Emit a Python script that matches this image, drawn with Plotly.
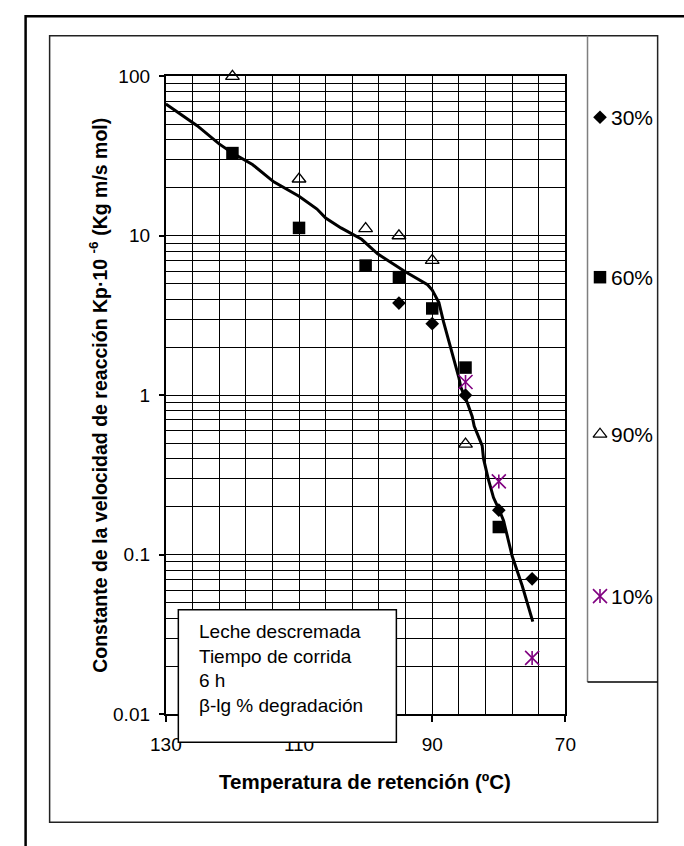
import plotly.graph_objects as go

W, H = 684, 846

# Kp·10^-6 (Kg m/s mol) vs temperatura de retención (ºC), by % degradation of β-lg
temp_30 = [95, 90, 85, 80, 75]
kp_30 = [3.78, 2.81, 1.0, 0.19, 0.0705]

temp_60 = [120, 110, 100, 95, 90, 85, 80]
kp_60 = [33.0, 11.2, 6.5, 5.5, 3.5, 1.49, 0.149]

temp_90 = [120, 110, 100, 95, 90, 85]
kp_90 = [100, 22.7, 11.1, 10.0, 7.0, 0.494]

temp_10 = [85, 80, 75]
kp_10 = [1.21, 0.288, 0.0225]

# fitted trend curve
temp_fit = [130, 125.3, 122, 120, 117, 113.8, 110, 107.3, 106, 103.7, 100.6, 98.2,
            94.1, 90.7, 90, 89.0, 88.3, 87.2, 86.0, 85.7, 84.7, 84.0, 83.7, 82.5,
            82.3, 81.6, 80.8, 79.9, 79.3, 78.0, 76.5, 74.9]
kp_fit = [67, 49, 37.7, 33, 28, 21.8, 17.7, 14.7, 12.9, 11.2, 9.5, 7.7,
          5.96, 4.93, 4.56, 3.81, 2.88, 1.97, 1.29, 1.12, 0.89, 0.736, 0.64, 0.483,
          0.40, 0.30, 0.228, 0.189, 0.164, 0.098, 0.064, 0.038]

legend_labels = ["30%", "60%", "90%", "10%"]
x_ticks = [130, 110, 90, 70]
y_ticks = [0.01, 0.1, 1, 10, 100]
y_ticktext = ["0.01", "0.1", "1", "10", "100"]
y_minor = [k * 10 ** e for e in range(-2, 2) for k in range(2, 10)]
box_lines = ["Leche descremada", "Tiempo de corrida", "6 h", "β-lg % degradación"]
x_title = "Temperatura de retención (ºC)"
y_title = "Constante de la velocidad de reacción Kp·10 <sup>-6</sup> (Kg m/s mol)"

FONT = "Liberation Sans, Arial, sans-serif"
PURPLE = "#800080"

# plot-area frame in pixels
L, R, T, B = 156, 572, 68, 722

# marker styles shared by the data points and the legend keys
DIAMOND = dict(symbol="diamond", size=10.5, color="black")
SQUARE = dict(symbol="square", size=12.5, color="black")
TRIANGLE = dict(symbol="triangle-up-open", size=12, color="black",
                line=dict(width=1.3, color="black"))
STAR_PARTS = [("x-thin-open", 14), ("line-ns-open", 10)]


def fx(p):
    return p / W


def fy(p):
    return 1 - p / H


def star(sym, sz):
    return dict(symbol=sym, size=sz, color=PURPLE, line=dict(width=1.6, color=PURPLE))


fig = go.Figure()

fig.add_trace(go.Scatter(x=temp_fit, y=kp_fit, mode="lines",
                         line=dict(color="black", width=3), showlegend=False))
fig.add_trace(go.Scatter(x=temp_30, y=kp_30, mode="markers", showlegend=False,
                         cliponaxis=False, marker=DIAMOND))
fig.add_trace(go.Scatter(x=temp_60, y=kp_60, mode="markers", showlegend=False,
                         cliponaxis=False, marker=SQUARE))
fig.add_trace(go.Scatter(x=temp_90, y=kp_90, mode="markers", showlegend=False,
                         cliponaxis=False, marker=TRIANGLE))
for sym, sz in STAR_PARTS:
    fig.add_trace(go.Scatter(x=temp_10, y=kp_10, mode="markers", showlegend=False,
                             cliponaxis=False, marker=star(sym, sz)))

# legend key markers, drawn on a pixel-space overlay axis
leg_x = 608
leg_y = [110, 274, 435, 601]
for yy, mk in zip(leg_y[:3], (DIAMOND, SQUARE, TRIANGLE)):
    fig.add_trace(go.Scatter(x=[leg_x], y=[yy], xaxis="x2", yaxis="y2", mode="markers",
                             showlegend=False, cliponaxis=False, marker=mk))
for sym, sz in STAR_PARTS:
    fig.add_trace(go.Scatter(x=[leg_x], y=[leg_y[3]], xaxis="x2", yaxis="y2", mode="markers",
                             showlegend=False, cliponaxis=False, marker=star(sym, sz)))

shapes = [
    # outer frame
    dict(type="rect", xref="paper", yref="paper", x0=fx(10), x1=fx(W + 20),
         y0=fy(6.5), y1=fy(H + 20), line=dict(color="black", width=2.5)),
    # chart-area frame
    dict(type="rect", xref="paper", yref="paper", x0=fx(35), x1=fx(668),
         y0=fy(26.5), y1=fy(833), line=dict(color="#222222", width=1.5)),
    # legend box
    dict(type="line", xref="paper", yref="paper", x0=fx(595), x1=fx(595),
         y0=fy(26.5), y1=fy(689), line=dict(color="#7f7f7f", width=1.5)),
    dict(type="line", xref="paper", yref="paper", x0=fx(595), x1=fx(668),
         y0=fy(689), y1=fy(689), line=dict(color="black", width=1.5)),
    # text box
    dict(type="rect", xref="paper", yref="paper", x0=fx(169), x1=fx(396),
         y0=fy(615), y1=fy(751), fillcolor="white", layer="above",
         line=dict(color="black", width=1.5)),
]

annotations = [
    dict(text="<br>".join(box_lines), xref="paper", yref="paper", x=fx(188), y=fy(624),
         xanchor="left", yanchor="top", align="left", showarrow=False,
         font=dict(family=FONT, size=19, color="black")),
    dict(text="<b>" + x_title + "</b>", xref="paper", yref="paper", x=fx(363), y=fy(791),
         xanchor="center", yanchor="middle", showarrow=False,
         font=dict(family=FONT, size=20.5, color="black")),
    dict(text="<b>" + y_title + "</b>", xref="paper", yref="paper", x=fx(86), y=fy(395),
         xanchor="center", yanchor="middle", textangle=-90, showarrow=False,
         font=dict(family=FONT, size=19.5, color="black")),
]
for lab, yy in zip(legend_labels, leg_y):
    annotations.append(dict(text=lab, xref="paper", yref="paper", x=fx(617), y=fy(yy),
                            xanchor="left", yanchor="middle", showarrow=False,
                            font=dict(family=FONT, size=21, color="black")))

grid = dict(showgrid=True, gridcolor="black", gridwidth=1)

fig.update_layout(
    width=W, height=H,
    margin=dict(l=0, r=0, t=0, b=0),
    paper_bgcolor="white", plot_bgcolor="rgba(0,0,0,0)",
    showlegend=False,
    xaxis=dict(domain=[fx(L), fx(R)], range=[130, 70], tickvals=x_ticks,
               ticks="outside", ticklen=6, tickwidth=1.5, tickcolor="black",
               ticklabelstandoff=6,
               showline=True, linecolor="black", linewidth=2, mirror=True,
               zeroline=False, **grid,
               minor=dict(tick0=70, dtick=4, showgrid=True, gridcolor="black", gridwidth=1),
               tickfont=dict(family=FONT, size=19, color="black")),
    yaxis=dict(domain=[fy(B), fy(T)], type="log", range=[-2, 2],
               tickvals=y_ticks, ticktext=y_ticktext,
               ticks="outside", ticklen=5, tickwidth=1.5, tickcolor="black",
               ticklabelstandoff=5,
               showline=True, linecolor="black", linewidth=2, mirror=True,
               zeroline=False, **grid,
               minor=dict(tickvals=y_minor, showgrid=True, gridcolor="black", gridwidth=1),
               tickfont=dict(family=FONT, size=19, color="black")),
    xaxis2=dict(domain=[0, 1], range=[0, W], visible=False, anchor="y2", fixedrange=True),
    yaxis2=dict(domain=[0, 1], range=[H, 0], visible=False, anchor="x2", fixedrange=True),
    shapes=shapes,
    annotations=annotations,
)

fig.write_html("out.html")
